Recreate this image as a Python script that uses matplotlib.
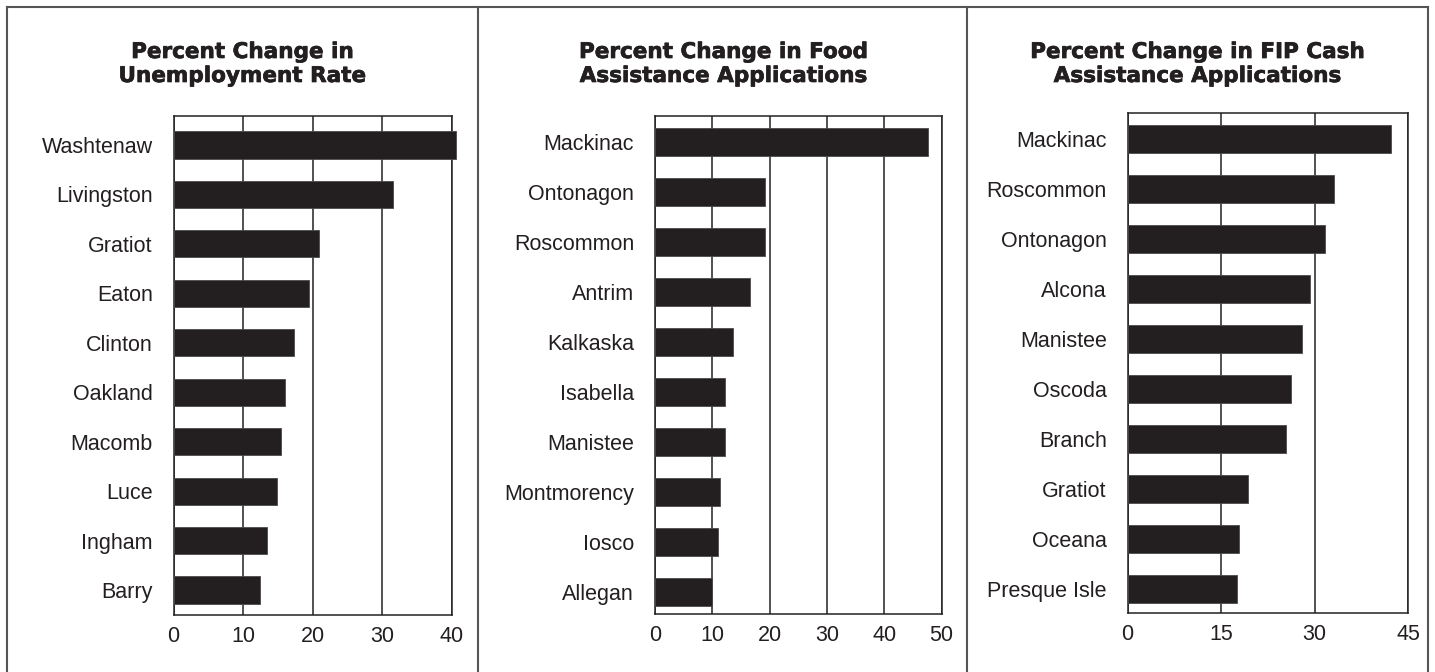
import matplotlib.pyplot as plt
import matplotlib.patheffects as pe
from matplotlib.lines import Line2D

# data, read top to bottom
unemp_counties = ["Washtenaw", "Livingston", "Gratiot", "Eaton", "Clinton",
                  "Oakland", "Macomb", "Luce", "Ingham", "Barry"]
unemp_values = [40.7, 31.6, 21.0, 19.5, 17.4, 16.1, 15.4, 14.9, 13.5, 12.5]

food_counties = ["Mackinac", "Ontonagon", "Roscommon", "Antrim", "Kalkaska",
                 "Isabella", "Manistee", "Montmorency", "Iosco", "Allegan"]
food_values = [47.7, 19.25, 19.25, 16.6, 13.6, 12.2, 12.2, 11.4, 11.0, 10.0]

fip_counties = ["Mackinac", "Roscommon", "Ontonagon", "Alcona", "Manistee",
                "Oscoda", "Branch", "Gratiot", "Oceana", "Presque Isle"]
fip_values = [42.2, 33.2, 31.7, 29.2, 27.95, 26.2, 25.5, 19.3, 17.9, 17.55]

titles = ["Percent Change in\nUnemployment Rate",
          "Percent Change in Food\nAssistance Applications",
          "Percent Change in FIP Cash\nAssistance Applications"]
xticks = [[0, 10, 20, 30, 40], [0, 10, 20, 30, 40, 50], [0, 15, 30, 45]]

W, H = 1435, 672
fig = plt.figure(figsize=(W / 100, H / 100), dpi=100)

BAR = "#231f20"
FRAME = "#555555"


def px_axes(left, right, top, bottom):
    return fig.add_axes([left / W, 1 - bottom / H, (right - left) / W, (bottom - top) / H])


# (left, right, top, bottom) in pixels, ylim gaps, bar height, title center x
panels = [
    (173.5, 451.5, 116, 615, 0.587, 0.506, 0.55, 242),
    (655, 941.5, 116, 614, 0.52, 0.44, 0.56, 723),
    (1127.5, 1408, 113, 613, 0.52, 0.48, 0.56, 1197),
]
data = [(unemp_counties, unemp_values), (food_counties, food_values),
        (fip_counties, fip_values)]

for i, (l, r, t, b, gt, gb, bh, tc) in enumerate(panels):
    names, vals = data[i]
    ax = px_axes(l, r, t, b)
    ypos = list(range(len(names)))
    ax.barh(ypos, vals, height=bh, color=BAR, edgecolor="#4a4a4a",
            linewidth=0.6, zorder=3, clip_on=False)
    ax.set_xlim(xticks[i][0], xticks[i][-1])
    ax.set_ylim(len(names) - 1 + gb, -gt)
    ax.set_xticks(xticks[i])
    ax.set_yticks(ypos)
    ax.set_yticklabels(names)
    ax.xaxis.grid(True, color="#222222", linewidth=1.1, zorder=1)
    ax.set_axisbelow(True)
    ax.tick_params(axis="both", length=0, labelsize=15.5, colors="#231f20")
    ax.tick_params(axis="x", pad=8)
    ax.tick_params(axis="y", pad=15)
    for s in ax.spines.values():
        s.set_color("#222222")
        s.set_linewidth(1.1)
    for lab in ax.get_xticklabels() + ax.get_yticklabels():
        lab.set_fontfamily("Liberation Sans")
    fig.text(tc / W, 1 - 64 / H, titles[i], ha="center", va="center",
             fontsize=15.5, fontweight="bold", fontfamily="DejaVu Sans",
             linespacing=1.25, color="#231f20",
             path_effects=[pe.withStroke(linewidth=0.5, foreground="#231f20")])

# outer frame and dividers
for x in [7, 478, 967, 1428]:
    fig.add_artist(Line2D([x / W, x / W], [0, 1 - 7 / H], color=FRAME,
                          linewidth=1.5, transform=fig.transFigure))
fig.add_artist(Line2D([7 / W, 1428 / W], [1 - 7 / H, 1 - 7 / H], color=FRAME,
                      linewidth=1.5, transform=fig.transFigure))

fig.savefig("out.png", dpi=100, facecolor="white")
